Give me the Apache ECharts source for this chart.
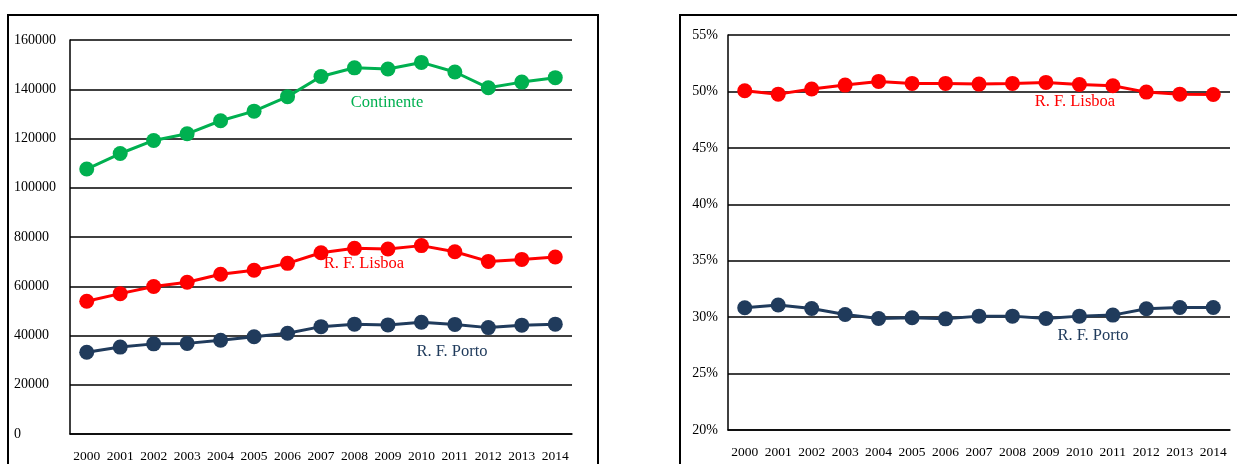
<!DOCTYPE html>
<html>
<head>
<meta charset="utf-8">
<script src="https://cdn.jsdelivr.net/npm/echarts@6/dist/echarts.min.js"></script>
<style>
  html, body { margin: 0; padding: 0; background: #fff; }
  #chart { width: 1237px; height: 464px; }
</style>
</head>
<body>
<div id="chart"></div>
<script>
// anos
var years = ['2000', '2001', '2002', '2003', '2004', '2005', '2006', '2007',
  '2008', '2009', '2010', '2011', '2012', '2013', '2014'];

// valores absolutos (grafico da esquerda)
var continente = [107600, 113900, 119200, 121900, 127200, 131100, 137000, 145200,
  148700, 148200, 150900, 147000, 140600, 142900, 144700];
var lisboaAbs = [53900, 57000, 59900, 61600, 64900, 66500, 69300, 73600,
  75400, 75100, 76500, 74000, 70100, 70900, 71900];
var portoAbs = [33200, 35300, 36600, 36800, 38100, 39500, 40900, 43600,
  44600, 44300, 45400, 44500, 43200, 44200, 44600];

// percentagens (grafico da direita)
var lisboaPct = [50.06, 49.76, 50.21, 50.56, 50.89, 50.71, 50.71, 50.65,
  50.71, 50.80, 50.62, 50.50, 49.94, 49.76, 49.73];
var portoPct = [30.83, 31.07, 30.77, 30.24, 29.88, 29.94, 29.85, 30.09,
  30.09, 29.88, 30.09, 30.18, 30.74, 30.86, 30.86];

var GREEN = '#00b050';
var RED = '#ff0000';
var NAVY = '#203b5c';
var FONT = '"Liberation Serif", "DejaVu Serif", serif';

var chart = echarts.init(document.getElementById('chart'), null, { renderer: 'canvas' });

function xAxisCfg(gridIndex) {
  return {
    type: 'category',
    gridIndex: gridIndex,
    data: years,
    boundaryGap: true,
    axisLine: { show: true, lineStyle: { color: '#000', width: 1.5 } },
    axisTick: { show: false },
    axisLabel: { color: '#000', fontFamily: FONT, fontSize: 13.5, margin: 15, interval: 0 },
    splitLine: { show: false }
  };
}

function lineSeries(name, data, color, idx) {
  return {
    name: name,
    type: 'line',
    xAxisIndex: idx,
    yAxisIndex: idx,
    data: data,
    symbol: 'circle',
    symbolSize: 15,
    lineStyle: { color: color, width: 3 },
    itemStyle: { color: color },
    animation: false
  };
}

function label(x, y, text, color) {
  return {
    type: 'text',
    x: x,
    y: y,
    style: {
      text: text,
      fill: color,
      font: '16.5px ' + FONT,
      textAlign: 'center',
      textVerticalAlign: 'middle'
    }
  };
}

var option = {
  backgroundColor: '#ffffff',
  animation: false,
  grid: [
    { left: 70, right: 1237 - 572, top: 40, bottom: 464 - 434 },
    { left: 728, right: 7, top: 35, bottom: 464 - 430 }
  ],
  xAxis: [xAxisCfg(0), xAxisCfg(1)],
  yAxis: [
    {
      type: 'value',
      gridIndex: 0,
      min: 0,
      max: 160000,
      interval: 20000,
      axisLine: { show: true, lineStyle: { color: '#000', width: 1.5 } },
      axisTick: { show: false },
      axisLabel: {
        color: '#000', fontFamily: FONT, fontSize: 14, align: 'left', margin: 56,
        formatter: function (v) { return String(v); }
      },
      splitLine: { show: true, lineStyle: { color: '#000', width: 1.5 } }
    },
    {
      type: 'value',
      gridIndex: 1,
      min: 20,
      max: 55,
      interval: 5,
      axisLine: { show: true, lineStyle: { color: '#000', width: 1.5 } },
      axisTick: { show: false },
      axisLabel: {
        color: '#000', fontFamily: FONT, fontSize: 14, margin: 10,
        formatter: function (v) { return v + '%'; }
      },
      splitLine: { show: true, lineStyle: { color: '#000', width: 1.5 } }
    }
  ],
  series: [
    lineSeries('Continente', continente, GREEN, 0),
    lineSeries('R. F. Lisboa', lisboaAbs, RED, 0),
    lineSeries('R. F. Porto', portoAbs, NAVY, 0),
    lineSeries('R. F. Lisboa', lisboaPct, RED, 1),
    lineSeries('R. F. Porto', portoPct, NAVY, 1)
  ],
  graphic: [
    // molduras
    {
      type: 'rect', shape: { x: 8, y: 15, width: 590, height: 470 },
      style: { fill: 'none', stroke: '#000', lineWidth: 2 }, silent: true
    },
    {
      type: 'rect', shape: { x: 680, y: 15, width: 600, height: 470 },
      style: { fill: 'none', stroke: '#000', lineWidth: 2 }, silent: true
    },
    label(387, 103, 'Continente', GREEN),
    label(364, 264, 'R. F. Lisboa', RED),
    label(452, 352, 'R. F. Porto', NAVY),
    label(1075, 102, 'R. F. Lisboa', RED),
    label(1093, 336, 'R. F. Porto', NAVY)
  ]
};

chart.setOption(option);
</script>
</body>
</html>
